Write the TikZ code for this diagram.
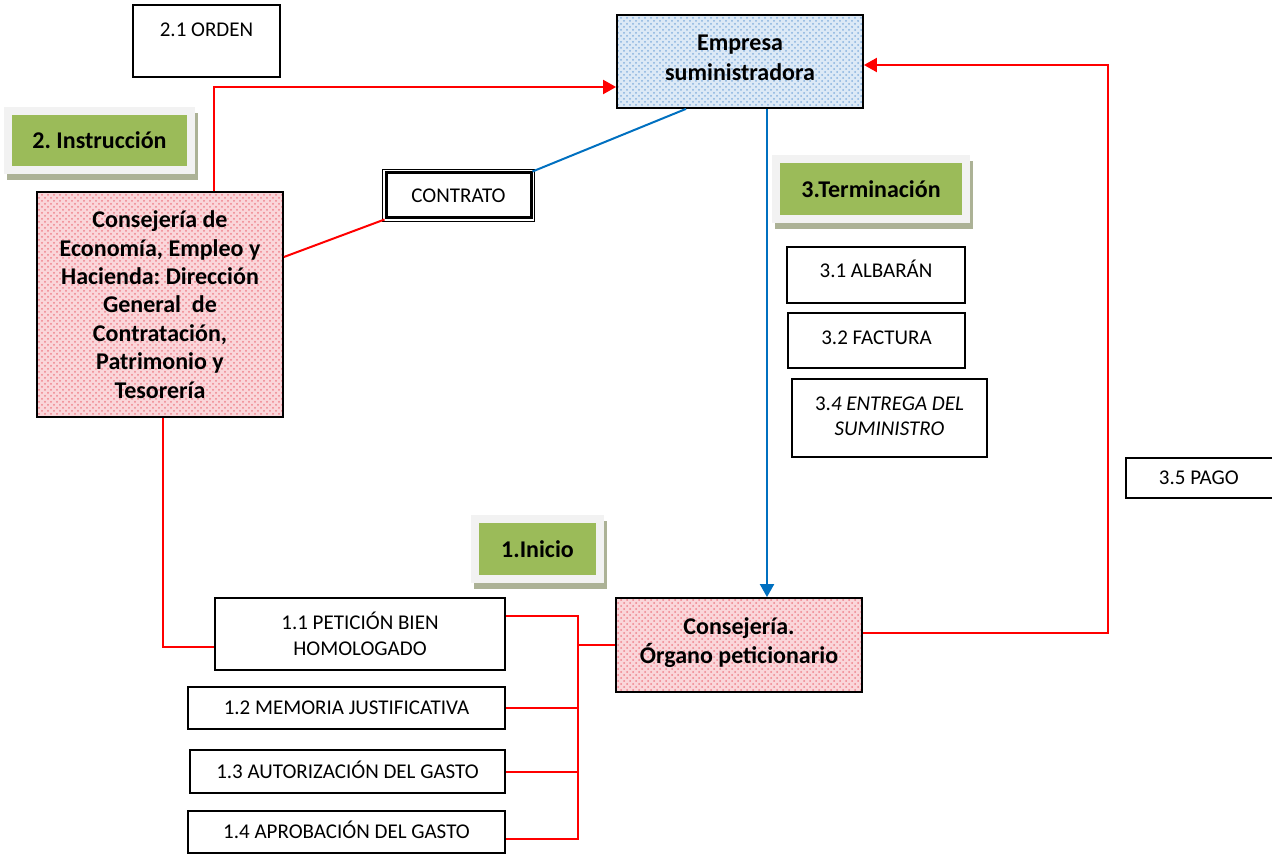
\documentclass[tikz,border=0pt]{standalone}
\usepackage{fontspec}
\setmainfont{Carlito}
\usetikzlibrary{arrows.meta,patterns}
\definecolor{verde}{RGB}{155,187,89}
\definecolor{marco}{RGB}{242,242,242}
\definecolor{sombra}{RGB}{172,178,150}
\definecolor{rosa}{RGB}{250,214,218}
\definecolor{rosapunto}{RGB}{238,130,140}
\definecolor{celeste}{RGB}{220,233,246}
\definecolor{celestepunto}{RGB}{135,178,222}
\definecolor{azul}{RGB}{0,112,192}
\frenchspacing
\begin{document}
\begin{tikzpicture}[x=.5pt, y=-.5pt, >={Triangle[length=6.5pt,width=7pt]},
    caja/.style={draw, line width=.9pt, fill=white, align=center, font=\fontsize{10.5}{12.8}\selectfont},
    linea/.style={text height=6.8pt, text depth=0pt},
    organismo/.style n args={2}{draw, line width=.9pt, preaction={fill=#1}, preaction={pattern=crosshatch dots, pattern color=#2}, align=center, font=\bfseries\fontsize{12}{14.2}\selectfont},
    fase/.style={fill=verde, draw=marco, line width=4pt, font=\bfseries\fontsize{12}{14}\selectfont, preaction={fill=sombra, draw=sombra, line width=4pt, transform canvas={xshift=1.5pt, yshift=-3pt}}},
    rojo/.style={draw=red, line width=1pt},
    azul/.style={draw=azul, line width=1pt}]
\clip (0,0) rectangle (1272,855);

% fase 2
\node[caja, minimum width=73.5pt, minimum height=36pt, text height=6pt, text depth=10pt] (orden) at (206.5,41) {2.1 ORDEN};
\node[fase, minimum width=91.5pt, minimum height=29.5pt] (instruc) at (99.5,140.5) {2. Instrucción};
\node[organismo={rosa}{rosapunto}, minimum width=123pt, minimum height=112.5pt] (consejo) at (160,304.5) {Consejería de\\Economía, Empleo y\\Hacienda: Dirección\\General\ \ de\\Contratación,\\Patrimonio y\\Tesorería};
\node[organismo={celeste}{celestepunto}, font=\bfseries\fontsize{12}{15}\selectfont, text depth=3.5pt, minimum width=123pt, minimum height=46.5pt] (empresa) at (740,61.5) {Empresa\\suministradora};
\node[caja, linea, minimum width=72.5pt, minimum height=22.5pt, preaction={draw, line width=4pt}, preaction={draw=white, line width=3pt}, line width=1.5pt] (contrato) at (458.5,195.5) {CONTRATO};

% fase 3
\node[fase, minimum width=95pt, minimum height=30pt] (termin) at (871,189) {3.Terminación};
\node[caja, minimum width=89pt, minimum height=28pt, text height=6pt, text depth=3pt] (albaran) at (876,275) {3.1 ALBARÁN};
\node[caja, minimum width=88.5pt, minimum height=27.5pt, text height=6pt, text depth=2pt] (factura) at (876.5,340.5) {3.2 FACTURA};
\node[caja, minimum width=97.5pt, minimum height=39pt, text depth=2pt] (entrega) at (889.5,418) {3.\textit{4 ENTREGA DEL}\\\textit{SUMINISTRO}};
\node[caja, linea, anchor=west, inner xsep=16.5pt, minimum height=20pt] (pago) at (1125,478) {3.5 PAGO\hspace{30pt}};

% fase 1
\node[fase, minimum width=62.5pt, minimum height=30pt] (inicio) at (537.5,549) {1.Inicio};
\node[organismo={rosa}{rosapunto}, font=\bfseries\fontsize{12}{14.5}\selectfont, text depth=4pt, minimum width=123pt, minimum height=47pt] (organo) at (739,645) {Consejería.\\Órgano peticionario};
\node[caja, minimum width=145pt, minimum height=36pt] (peticion) at (360,634) {1.1 PETICIÓN BIEN\\HOMOLOGADO};
\node[caja, linea, minimum width=158.5pt, minimum height=21pt] (memoria) at (346.5,708) {1.2 MEMORIA JUSTIFICATIVA};
\node[caja, linea, minimum width=157.5pt, minimum height=21.5pt] (autoriza) at (347.5,771.5) {1.3 AUTORIZACIÓN DEL GASTO};
\node[caja, linea, minimum width=158.5pt, minimum height=21pt] (aprueba) at (346.5,832) {1.4 APROBACIÓN DEL GASTO};

\coordinate (retorno) at (1108,65);
\coordinate (bus) at (578,616);
\coordinate (busfin) at (578,839);

\draw[rojo,->] ([xshift=89pt]consejo.north west) |- ([yshift=-12.75pt]empresa.west);
\draw[rojo] ([yshift=23.75pt]consejo.east) -- (contrato.south west);
\draw[azul] ([xshift=-27pt]empresa.south) -- (contrato.north east);
\draw[azul,->] ([xshift=13.5pt]empresa.south) -- ([xshift=13.5pt]empresa.south |- organo.north);
\draw[rojo,->] ([yshift=6pt]organo.east) -| (retorno) -- ([yshift=-1.75pt]empresa.east);
\draw[rojo] ([xshift=1.5pt]consejo.south) |- ([yshift=-6.5pt]peticion.west);
\draw[rojo] (peticion.east |- bus) -- (bus) -- (busfin) -- (aprueba.east |- busfin);
\draw[rojo] (memoria.east) -- (memoria.east -| bus);
\draw[rojo] (autoriza.east) -- (autoriza.east -| bus);
\draw[rojo] (organo.west) -- (organo.west -| bus);
\end{tikzpicture}
\end{document}
